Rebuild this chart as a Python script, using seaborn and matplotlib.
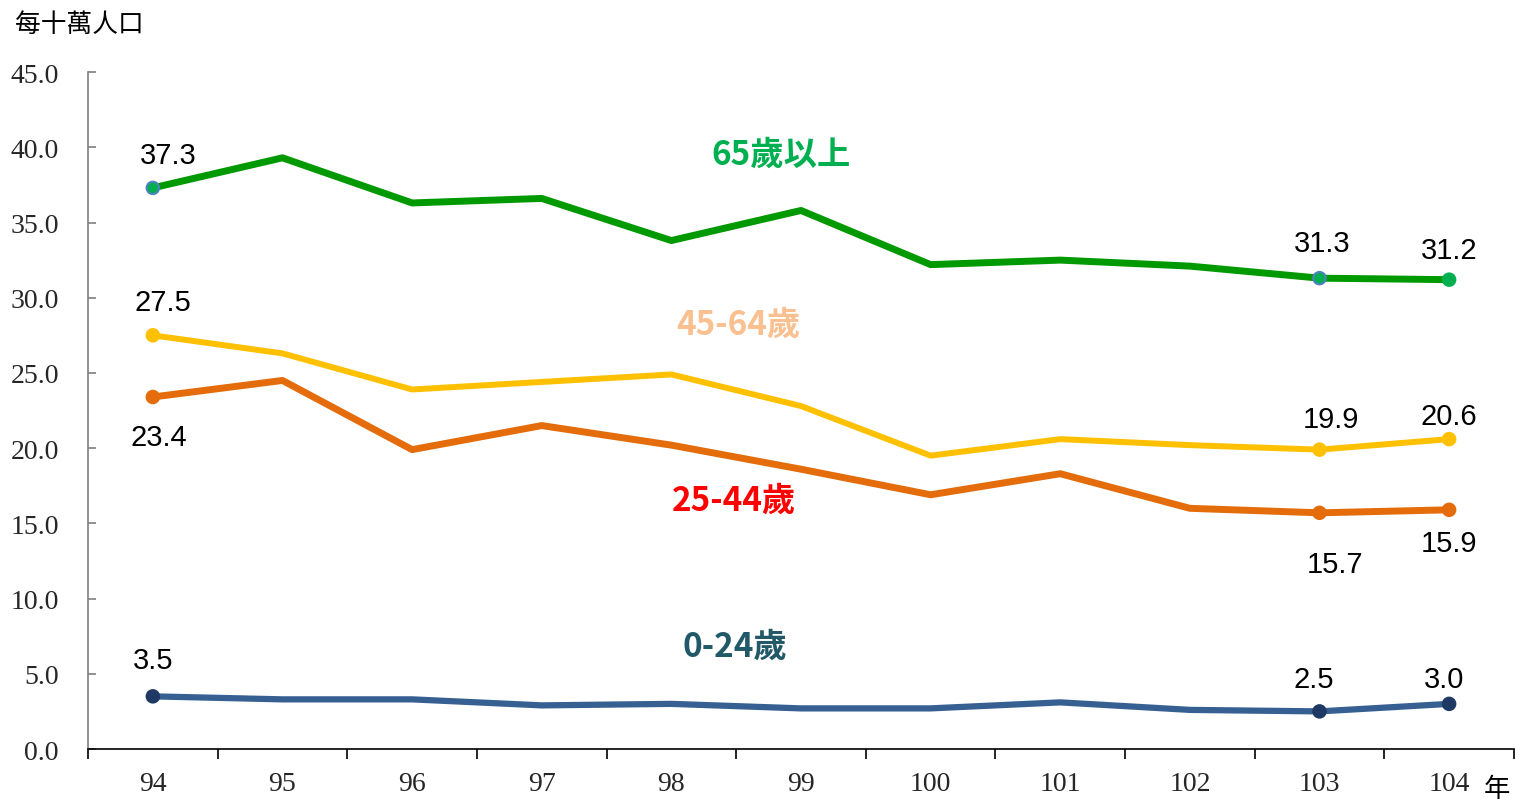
import pandas as pd
import matplotlib.pyplot as plt
import seaborn as sns
from matplotlib.ticker import FixedLocator, FormatStrFormatter

# --- data ---
years = ['94', '95', '96', '97', '98', '99', '100', '101', '102', '103', '104']
age_65_plus = [37.3, 39.3, 36.3, 36.6, 33.8, 35.8, 32.2, 32.5, 32.1, 31.3, 31.2]
age_45_64 = [27.5, 26.3, 23.9, 24.4, 24.9, 22.8, 19.5, 20.6, 20.2, 19.9, 20.6]
age_25_44 = [23.4, 24.5, 19.9, 21.5, 20.2, 18.6, 16.9, 18.3, 16.0, 15.7, 15.9]
age_0_24 = [3.5, 3.3, 3.3, 2.9, 3.0, 2.7, 2.7, 3.1, 2.6, 2.5, 3.0]
series_names = ['65歲以上', '45-64歲', '25-44歲', '0-24歲']
labelled_points = [0, 9, 10]

sns.set_theme(style="white")
plt.rcParams['font.family'] = ['Liberation Serif', 'Noto Sans CJK TC']
cjk = ['Noto Sans CJK TC', 'DejaVu Sans']

fig = plt.figure(figsize=(15.15, 8.03), dpi=100)
ax = fig.add_axes([0.0581, 0.066, 0.9412, 0.843])

x = list(range(len(years)))

# line colour, width, marker face, marker edge, label colour, label offsets (pt)
styles = [
    (age_65_plus, '#009900', 5.0, '#00B050', ['#4F81BD', '#4F81BD', '#00B050'], '#00B050',
     [(11, 24), (2, 25), (0, 21)]),
    (age_45_64, '#FFC000', 4.3, '#FFC000', ['#FFC000'] * 3, '#FAC090',
     [(7, 24), (8, 22), (0, 17)]),
    (age_25_44, '#E46C0A', 5.0, '#E46C0A', ['#E46C0A'] * 3, '#FF0000',
     [(4, -29), (11, -37), (0, -24)]),
    (age_0_24, '#366092', 4.5, '#1F3864', ['#1F3864'] * 3, '#215968',
     [(0, 26), (-4, 23), (-4, 18)]),
]
name_pos = [(4.85, 39.55), (4.52, 28.25), (4.48, 16.55), (4.49, 6.85)]

for (vals, lc, lw, mfc, mec, tc, offs), name, (nx, ny) in zip(styles, series_names, name_pos):
    df = pd.DataFrame({'x': x, 'v': vals})
    sns.lineplot(data=df, x='x', y='v', color=lc, linewidth=lw, ax=ax)
    sub = df.iloc[labelled_points]
    sns.scatterplot(data=sub, x='x', y='v', color=mfc, edgecolor=mec, linewidth=1.5,
                    s=80, ax=ax, zorder=5)
    for i, (dx, dy) in zip(labelled_points, offs):
        ax.annotate(f"{vals[i]:.1f}", (i, vals[i]), xytext=(dx, dy),
                    textcoords='offset points', ha='center', va='center',
                    fontsize=21, family=['Liberation Sans'], color='black')
    ax.text(nx, ny, name, color=tc, fontsize=24, family=cjk, fontweight='bold',
            ha='center', va='center')

ax.set_xlim(-0.5, len(years) - 0.5)
ax.set_ylim(0, 45)
ax.set_xlabel('')
ax.set_ylabel('')

ax.set_xticks(x)
ax.set_xticklabels(years)
ax.xaxis.set_minor_locator(FixedLocator([i - 0.5 for i in range(len(years) + 1)]))
ax.tick_params(axis='x', which='major', length=0, pad=16, labelsize=20)
ax.tick_params(axis='x', which='minor', direction='out', length=7, width=1.2,
               color='black', bottom=True)

ax.set_yticks([0, 5, 10, 15, 20, 25, 30, 35, 40, 45])
ax.yaxis.set_major_formatter(FormatStrFormatter('%.1f'))
ax.tick_params(axis='y', direction='in', length=6, width=1.2, color='#7f7f7f',
               left=True, pad=21, labelsize=20)

for s in ['top', 'right']:
    ax.spines[s].set_visible(False)
ax.spines['left'].set_color('#7f7f7f')
ax.spines['left'].set_linewidth(1.2)
ax.spines['bottom'].set_color('black')
ax.spines['bottom'].set_linewidth(1.2)

fig.text(15 / 1515, 1 - 25 / 803, '每十萬人口', fontsize=18.5, family=cjk,
         ha='left', va='center', color='black')
fig.text(1497 / 1515, 1 - 790 / 803, '年', fontsize=19, family=cjk,
         ha='center', va='center', color='black')

plt.savefig('out.png', dpi=100)
